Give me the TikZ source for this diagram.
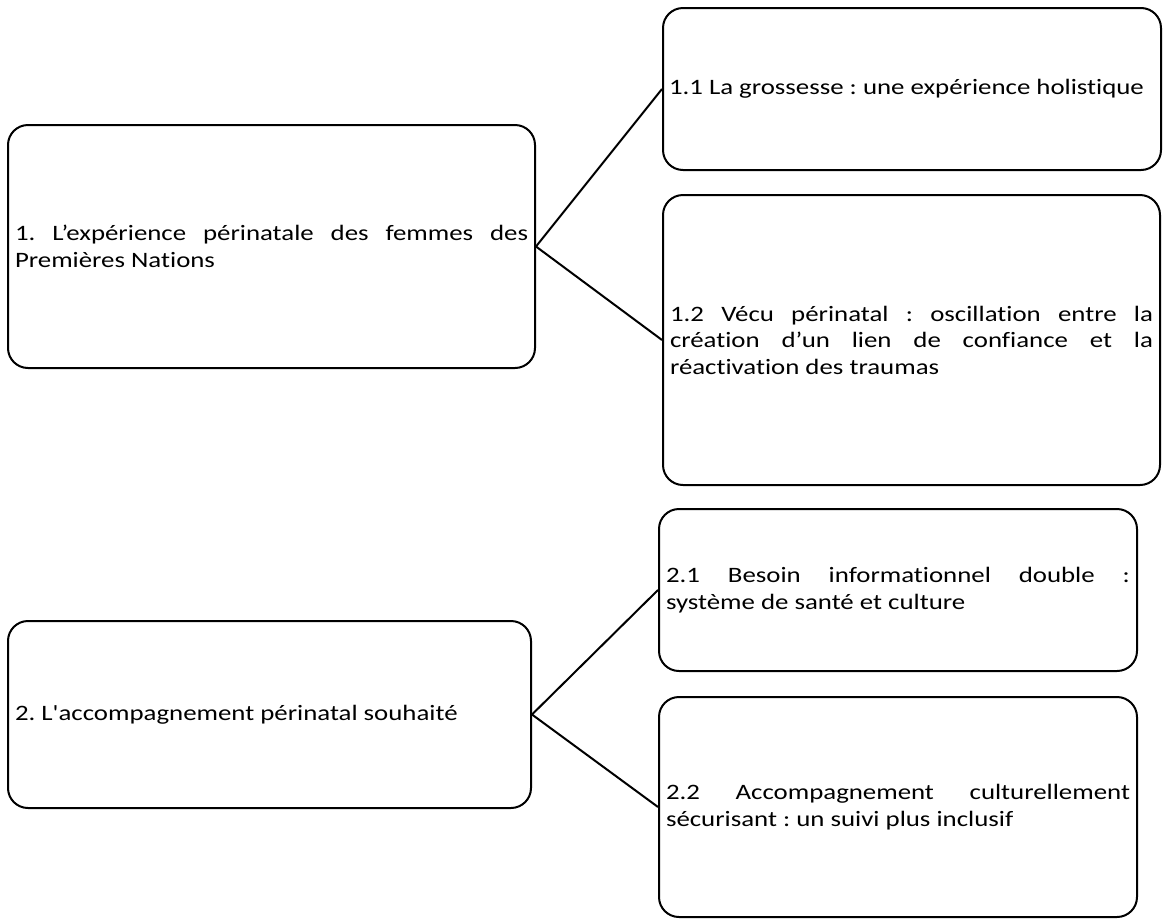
\documentclass[tikz,border=0pt]{standalone}
\usepackage{fontspec}
\setmainfont{Carlito}[Ligatures={TeXOff,NoCommon}, FakeStretch=1.22]
\newcommand\boxfont{\fontsize{22pt}{26.5pt}\selectfont\frenchspacing\hyphenpenalty10000\relax\exhyphenpenalty10000\relax}
\begin{document}
\begin{tikzpicture}[x=1pt,y=-1pt,
  box/.style={draw, line width=2pt, rounded corners=20pt, inner sep=0pt,
    align=justify, font=\boxfont},
  link/.style={line width=2pt}]
\useasboundingbox (0,0) rectangle (1165,919);
% level 1
\node[box, minimum width=527pt, minimum height=243pt, text width=513pt] (b1) at (271.5,246.5)
  {1. L’expérience périnatale des femmes des\linebreak Premières Nations};
\node[box, minimum width=523pt, minimum height=187pt, text width=509pt] (b2) at (269.5,714.5)
  {2. L'accompagnement périnatal souhaité};
% level 2
\node[box, minimum width=498pt, minimum height=162pt, text width=486pt] (b11) at (912,89)
  {1.1 La grossesse : une expérience holistique};
\node[box, minimum width=497pt, minimum height=290pt, text width=483pt] (b12) at (911.5,340)
  {1.2 Vécu périnatal : oscillation entre la\linebreak création d’un lien de confiance et la\linebreak réactivation des traumas};
\node[box, minimum width=478pt, minimum height=162pt, text width=464pt] (b21) at (898,590)
  {2.1 Besoin informationnel double :\linebreak système de santé et culture};
\node[box, minimum width=478pt, minimum height=220pt, text width=464pt] (b22) at (898,807)
  {2.2 Accompagnement culturellement\linebreak sécurisant : un suivi plus inclusif};
% connectors
\draw[link] (b1.east) -- (b11.west);
\draw[link] (b1.east) -- (b12.west);
\draw[link] (b2.east) -- (b21.west);
\draw[link] (b2.east) -- (b22.west);
\end{tikzpicture}
\end{document}
